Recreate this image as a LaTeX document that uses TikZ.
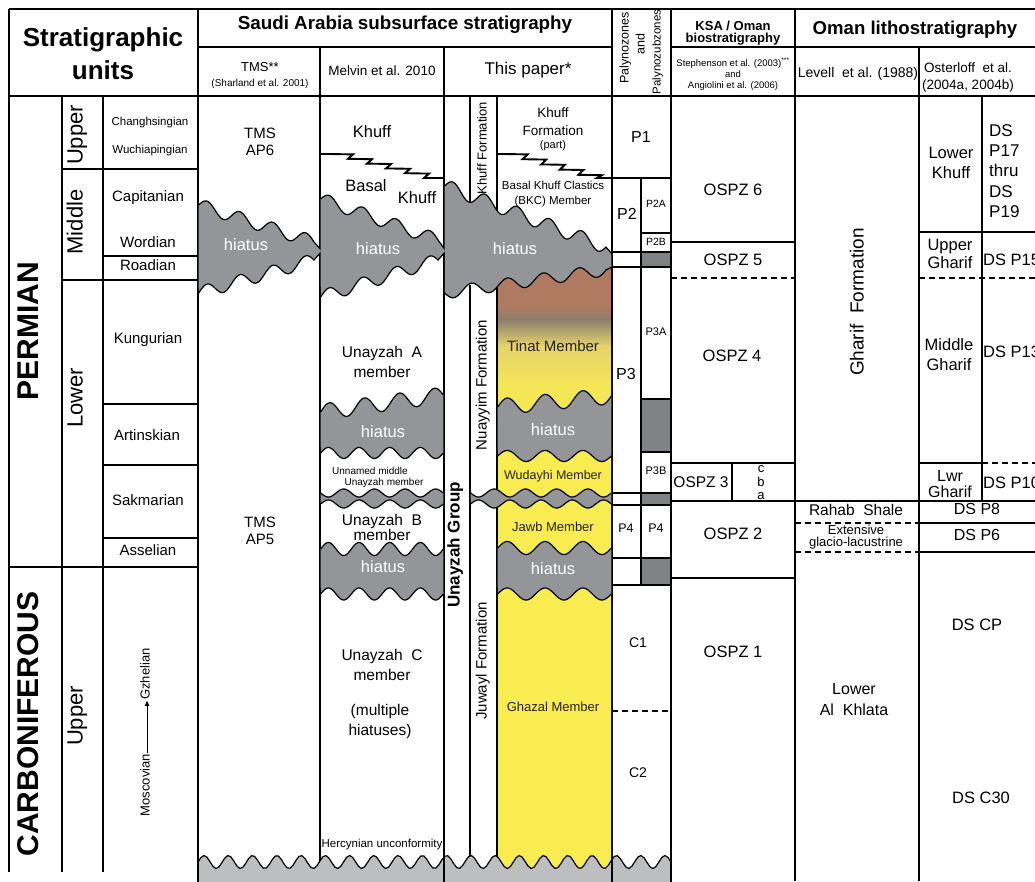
\documentclass[tikz,border=0pt]{standalone}
\usepackage{fontspec}
\setmainfont{Liberation Sans}
\usetikzlibrary{arrows.meta}
\newcommand\fsz[2]{\fontsize{#1}{#2}\selectfont}
\definecolor{hgray}{HTML}{939598}
\definecolor{dgray}{HTML}{808285}
\definecolor{bgray}{HTML}{BCBEC0}
\definecolor{brn}{HTML}{B07A60}
\definecolor{gbrn}{HTML}{8C7E6C}
\definecolor{ylw1}{HTML}{E4D26C}
\definecolor{ylwT}{HTML}{F5E655}
\definecolor{ylw}{HTML}{F8EC50}
\definecolor{ink}{HTML}{231F20}
\tikzset{
  % wavy edge from (#1,#2) to (#3,#4), amplitude #5, #6 periods, phase #7
  wvs/.style args={#1/#2/#3/#4/#5/#6/#7}{insert path={plot[domain=0:1,samples=160,variable=\t] ({#1+(#3-#1)*\t},{#2+(#4-#2)*\t+#5*sin(360*#6*\t+#7)})}},
  wvl/.style args={#1/#2/#3/#4/#5/#6/#7}{insert path={-- plot[domain=0:1,samples=160,variable=\t] ({#1+(#3-#1)*\t},{#2+(#4-#2)*\t+#5*sin(360*#6*\t+#7)})}},
}
\begin{document}
\begin{tikzpicture}[x=1pt,y=-1pt,
  ln/.style={line width=1.2pt},
  zz/.style={line width=1.9pt, line join=miter, miter limit=4},
  dsh/.style={line width=1.2pt, dash pattern=on 6pt off 4pt},
  t/.style={inner sep=1pt, align=center},
  t1/.style={inner sep=1pt, text height=0.72em, text depth=0.2em},
  hl/.style={t1, text=white, font=\fsz{16.5}{19}},
  mem/.style={t1, text=ink}]
\useasboundingbox (0,0) rectangle (1035,881);
\clip (0,0) rectangle (1035,881);
\fill[white] (0,0) rectangle (1035,881);

% ---------- coloured fills of the members ----------
\fill[brn] (497.6,262) rectangle (611.4,306);
\shade[top color=brn, bottom color=gbrn] (497.6,305) rectangle (611.4,320);
\shade[top color=gbrn, bottom color=ylw1] (497.6,319.5) rectangle (611.4,346);
\shade[top color=ylw1, bottom color=ylwT] (497.6,345.5) rectangle (611.4,385);
\fill[ylwT] (497.6,384.5) rectangle (611.4,420);
\fill[ylw] (497.6,445) rectangle (611.4,500);
\fill[ylw] (497.6,496) rectangle (611.4,560);
\fill[ylw] (497.6,585) rectangle (611.4,875);
% palynozone gaps
\fill[dgray] (641,252) rectangle (671,267);
\fill[dgray] (641,399) rectangle (671,452);
\fill[dgray] (641,493) rectangle (671,505);
\fill[dgray] (641,558) rectangle (671,585);

% ---------- table frame ----------
\draw[ln] (9,9) -- (1040,9);
\draw[ln] (9,96) -- (1040,96);
\draw[ln] (198,47) -- (612,47);
\draw[ln] (671,47) -- (1040,47);
\draw[ln] (9,9) -- (9,872);
\draw[ln] (62,96) -- (62,872);
\draw[ln] (103,96) -- (103,872);
\draw[ln] (198,9) -- (198,881);
\draw[ln] (320,47) -- (320,862);
\draw[ln] (444,47) -- (444,881);
\draw[ln] (470,96) -- (470,215) (470,285) -- (470,862);
\draw[ln] (497,96) -- (497,215) (497,285) -- (497,862);
\draw[ln] (612,9) -- (612,881);
\draw[ln] (641,178) -- (641,585);
\draw[ln] (671,9) -- (671,881);
\draw[ln] (732,463) -- (732,501);
\draw[ln] (795,9) -- (795,881);
\draw[ln] (919,47) -- (919,881);
\draw[ln] (982,96) -- (982,501);
% chronostratigraphic rows
\draw[ln] (62,169) -- (198,169);
\draw[ln] (103,256) -- (198,256);
\draw[ln] (62,280) -- (198,280);
\draw[ln] (103,404) -- (198,404);
\draw[ln] (103,465) -- (198,465);
\draw[ln] (103,538) -- (198,538);
\draw[ln] (9,567) -- (198,567);
% palynozones
\draw[ln] (612,178) -- (671,178);
\draw[ln] (612,252) -- (641,252);
\draw[ln] (641,233) -- (671,233) (641,252) -- (671,252);
\draw[ln] (612,267) -- (671,267);
\draw[ln] (641,399) -- (671,399) (641,452) -- (671,452);
\draw[ln] (612,493) -- (671,493) (612,505) -- (671,505);
\draw[ln] (612,558) -- (671,558) (612,585) -- (671,585);
\draw[dsh] (612,711) -- (671,711);
% KSA / Oman biozones
\draw[ln] (671,242) -- (795,242);
\draw[dsh] (671,278) -- (795,278);
\draw[ln] (671,463) -- (795,463);
\draw[ln] (671,501) -- (1040,501);
\draw[ln] (671,578) -- (795,578);
% Oman lithostratigraphy
\draw[ln] (919,232) -- (1040,232);
\draw[dsh] (919,278) -- (1040,278);
\draw[ln] (919,463) -- (982,463);
\draw[dsh] (982,463) -- (1040,463);
\draw[dsh] (795,523) -- (919,523);
\draw[ln] (919,523) -- (1040,523);
\draw[dsh] (795,552) -- (919,552);
\draw[ln] (919,552) -- (1040,552);

% ---------- interfingering Khuff contacts ----------
\draw[zz] (320,154) -- (329,154) -- (353,154.4) -- (348,158.8) -- (372,159.2) -- (367,163.6)
  -- (391,164) -- (386,168.4) -- (410,168.8) -- (405,173.2) -- (429,173.6) -- (424,178) -- (444,178);
\draw[zz] (497,154) -- (504,154) -- (527.6,154.4) -- (522.6,159.2) -- (546.2,159.6) -- (541.2,164.4)
  -- (564.8,164.8) -- (559.8,169.6) -- (583.4,170) -- (578.4,174.8) -- (602,175.2) -- (597,178) -- (612,178);

% ---------- hiatuses ----------
% Mid-Permian hiatus, TMS column
\fill[hgray] [wvs=198.7/205/314/242/6.5/3.5/180] -- (322,251) [wvl=314/260/198.7/293/6.5/3.5/180] -- cycle;
\draw[ln] [wvs=198.7/205/314/242/6.5/3.5/180] -- (322,251) [wvl=314/260/198.7/293/6.5/3.5/180];
% Mid-Permian hiatus, Melvin column
\fill[hgray] [wvs=320.7/199/438/240/6.5/3.5/180] -- (446,251) [wvl=438/260/320.7/297/6.5/3.5/180] -- cycle;
\draw[ln] [wvs=320.7/199/438/240/6.5/3.5/180] -- (446,251) [wvl=438/260/320.7/297/6.5/3.5/180];
% Mid-Permian hiatus, this paper
\fill[hgray] [wvs=444.7/186/606/247/7/5/180] -- (611.4,254) -- (611.4,267) [wvl=606/270/444.7/293/6/4.5/0] -- cycle;
\draw[ln] [wvs=444.7/186/606/247/7/5/180] -- (612,254);
\draw[ln] (612,267) [wvl=606/270/444.7/293/6/4.5/0];
% Tinat / Wudayhi hiatus
\fill[hgray] [wvs=320.7/412/443.3/395/8/3.5/180] [wvl=443.3/453/320.7/453/5.5/4/0] -- cycle;
\draw[ln] [wvs=320.7/412/443.3/395/8/3.5/180];
\draw[ln] [wvs=443.3/453/320.7/453/5.5/4/0];
\fill[hgray] [wvs=497.7/407/611.3/396/8/3/180] [wvl=611.3/456/497.7/456/5.5/3/0] -- cycle;
\draw[ln] [wvs=497.7/407/611.3/396/8/3/180];
\draw[ln] [wvs=611.3/456/497.7/456/5.5/3/0];
% thin hiatus below the unnamed middle member / Wudayhi
\fill[hgray] [wvs=320.7/493/443.3/493/4/4/0] [wvl=443.3/504/320.7/504/4/4/0] -- cycle;
\draw[ln] [wvs=320.7/493/443.3/493/4/4/0];
\draw[ln] [wvs=443.3/504/320.7/504/4/4/0];
\fill[hgray] [wvs=470.7/493/611.3/493/4/4.5/0] [wvl=611.3/504/470.7/504/4/4.5/180] -- cycle;
\draw[ln] [wvs=470.7/493/611.3/493/4/4.5/0];
\draw[ln] [wvs=611.3/504/470.7/504/4/4.5/180];
% hiatus between Unayzah B / Jawb and Unayzah C / Ghazal
\fill[hgray] [wvs=320.7/549/443.3/549/6.5/4/180] [wvl=443.3/594/320.7/594/6/4/0] -- cycle;
\draw[ln] [wvs=320.7/549/443.3/549/6.5/4/180];
\draw[ln] [wvs=443.3/594/320.7/594/6/4/0];
\fill[hgray] [wvs=497.7/548/611.3/548/6.5/3/180] [wvl=611.3/594/497.7/594/6/3/0] -- cycle;
\draw[ln] [wvs=497.7/548/611.3/548/6.5/3/180];
\draw[ln] [wvs=611.3/594/497.7/594/6/3/0];
% Hercynian unconformity and pre-Unayzah basement
\fill[bgray] [wvs=198/862/671/862/6.5/19.5/180] -- (671,885) -- (198,885) -- cycle;
\draw[ln] [wvs=198/862/671/862/6.5/19.5/180];
\draw[ln] (198,850) -- (198,885) (444,850) -- (444,885) (612,850) -- (612,885) (671,850) -- (671,885);

% ---------- header ----------
\node[t, font=\bfseries\fsz{26}{33}] (hStrat) at (103,54) {Stratigraphic\\units};
\node[t1, font=\bfseries\fsz{18.8}{21}] (hSaudi) at (405,27) {Saudi Arabia subsurface stratigraphy};
\node[t1, font=\fsz{13}{15}] (hTMS) at (260,69) {TMS**};
\node[t1, font=\fsz{10}{12}] (hShar) at (260,84) {(Sharland et al. 2001)};
\node[t1, font=\fsz{13.5}{16}] (hMel) at (382,73) {Melvin et al. 2010};
\node[t1, font=\fsz{17}{20}] (hThis) at (528,72) {This paper*};
\node[t1, rotate=90, font=\fsz{12.5}{14}] (hPal1) at (626,48) {Palynozones};
\node[t1, rotate=90, font=\fsz{12.5}{14}] (hPal2) at (642,44) {and};
\node[t1, rotate=90, font=\fsz{11.5}{14}] (hPal3) at (658,52) {Palynozubzones};
\node[t, font=\bfseries\fsz{13}{12}] (hKSA) at (733,33) {KSA / Oman\\biostratigraphy};
\node[t, font=\fsz{9.5}{11}] (hSteph) at (733,74) {Stephenson et al. (2003)\textsuperscript{***}\\and\\Angiolini et al. (2006)};
\node[t1, font=\bfseries\fsz{18.6}{21}] (hOman) at (915,32) {Oman lithostratigraphy};
\node[t1, font=\fsz{14}{17}] (hLev) at (858,75) {Levell\ \ et al. (1988)};
\node[t, font=\fsz{13.5}{17}] (hOst) at (968,78) {Osterloff\ \ et al.\\(2004a, 2004b)};

% ---------- chronostratigraphy ----------
\node[t1, rotate=90, font=\bfseries\fsz{30}{34}] (perm) at (36,331) {PERMIAN};
\node[t1, rotate=90, font=\bfseries\fsz{30}{34}] (carb) at (36,724) {CARBONIFEROUS};
\node[t1, rotate=90, font=\fsz{22}{25}] (epU) at (80,135) {Upper};
\node[t1, rotate=90, font=\fsz{22}{25}] (epM) at (80,222) {Middle};
\node[t1, rotate=90, font=\fsz{22}{25}] (epL) at (80,398) {Lower};
\node[t1, rotate=90, font=\fsz{22}{25}] (epC) at (80,716) {Upper};
\node[t1, font=\fsz{11.5}{13}] (stCh) at (150,123) {Changhsingian};
\node[t1, font=\fsz{11.5}{13}] (stWu) at (150,151) {Wuchiapingian};
\node[t1, font=\fsz{15}{17}] (stCa) at (148,199) {Capitanian};
\node[t1, font=\fsz{15}{17}] (stWo) at (148,245) {Wordian};
\node[t1, font=\fsz{15}{17}] (stRo) at (148,268) {Roadian};
\node[t1, font=\fsz{15}{17}] (stKu) at (148,341) {Kungurian};
\node[t1, font=\fsz{15}{17}] (stAr) at (147,438) {Artinskian};
\node[t1, font=\fsz{15}{17}] (stSa) at (148,503) {Sakmarian};
\node[t1, font=\fsz{15}{17}] (stAs) at (148,553) {Asselian};
\node[t1, rotate=90, font=\fsz{13}{15}] (mosc) at (147,785) {Moscovian};
\node[t1, rotate=90, font=\fsz{13}{15}] (gzh) at (147,674) {Gzhelian};
\draw[line width=0.9pt, -{Triangle[length=5pt,width=4.5pt]}] (mosc) -- (gzh);

% ---------- TMS ----------
\node[t, font=\fsz{15}{17}] (tms6) at (260,142) {TMS\\AP6};
\node[t, font=\fsz{15}{17}] (tms5) at (260,531) {TMS\\AP5};
\node[hl] (hi1) at (246,248) {hiatus};

% ---------- Melvin et al. ----------
\node[t1, font=\fsz{16.5}{19}] (mKh) at (372,135) {Khuff};
\node[t1, font=\fsz{16.5}{19}] (mBas) at (366,189) {Basal};
\node[t1, font=\fsz{16.5}{19}] (mKh2) at (417,201) {Khuff};
\node[hl] (hi2) at (378,252) {hiatus};
\node[t, font=\fsz{15.5}{20}] (mUA) at (382,362) {Unayzah\ \ A\\member};
\node[hl] (hi3) at (383,435) {hiatus};
\node[t1, font=\fsz{10}{12}] (mUn1) at (370,472) {Unnamed middle};
\node[t1, font=\fsz{10}{12}] (mUn2) at (384,483) {Unayzah member};
\node[t, font=\fsz{15.5}{15}] (mUB) at (382,527) {Unayzah\ \ B\\member};
\node[hl] (hi4) at (383,570) {hiatus};
\node[t, font=\fsz{15.5}{20}] (mUC) at (382,665) {Unayzah\ \ C\\member};
\node[t, font=\fsz{15.5}{20}] (mMult) at (380,721) {(multiple\\hiatuses)};
\node[t1, font=\fsz{11.5}{13}] (mHerc) at (382,845) {Hercynian unconformity};

% ---------- this paper ----------
\node[t1, rotate=90, font=\fsz{13}{15}] (pKF) at (484,148) {Khuff Formation};
\node[t, font=\fsz{13.5}{18}] (pKh) at (553,122) {Khuff\\Formation};
\node[t1, font=\fsz{11}{13}] (pPart) at (553,146) {(part)};
\node[t, font=\fsz{11.5}{15}] (pBKC) at (553,194) {Basal Khuff Clastics\\(BKC) Member};
\node[hl] (hi5) at (515,252) {hiatus};
\node[t1, rotate=90, font=\bfseries\fsz{17}{20}] (pUG) at (457,545) {Unayzah Group};
\node[t1, rotate=90, font=\fsz{15}{17}] (pNF) at (484,385) {Nuayyim Formation};
\node[mem, font=\fsz{15}{17}] (pTin) at (553,349) {Tinat Member};
\node[hl] (hi6) at (553,433) {hiatus};
\node[mem, font=\fsz{12.5}{15}] (pWud) at (553,477) {Wudayhi Member};
\node[mem, font=\fsz{13}{15}] (pJawb) at (553,529) {Jawb Member};
\node[hl] (hi7) at (553,572) {hiatus};
\node[t1, rotate=90, font=\fsz{15}{17}] (pJF) at (484,661) {Juwayl Formation};
\node[mem, font=\fsz{13}{15}] (pGh) at (553,709) {Ghazal Member};

% ---------- palynozones ----------
\node[t1, font=\fsz{16}{18}] (pz1) at (641,140) {P1};
\node[t1, font=\fsz{16}{18}] (pz2) at (627,217) {P2};
\node[t1, font=\fsz{10.5}{12}] (pz2a) at (656,205) {P2A};
\node[t1, font=\fsz{10.5}{12}] (pz2b) at (656,243) {P2B};
\node[t1, font=\fsz{16}{18}] (pz3) at (626,377) {P3};
\node[t1, font=\fsz{11}{12}] (pz3a) at (656,333) {P3A};
\node[t1, font=\fsz{11}{12}] (pz3b) at (656,472) {P3B};
\node[t1, font=\fsz{12.5}{14}] (pz4) at (626,530) {P4};
\node[t1, font=\fsz{12.5}{14}] (pz4s) at (656,530) {P4};
\node[t1, font=\fsz{14}{16}] (pzc1) at (638,645) {C1};
\node[t1, font=\fsz{14}{16}] (pzc2) at (638,775) {C2};

% ---------- KSA / Oman biozones ----------
\node[t1, font=\fsz{16.5}{19}] (o6) at (733,193) {OSPZ 6};
\node[t1, font=\fsz{16.5}{19}] (o5) at (733,263) {OSPZ 5};
\node[t1, font=\fsz{16.5}{19}] (o4) at (732,359) {OSPZ 4};
\node[t1, font=\fsz{15.5}{18}] (o3) at (701,485) {OSPZ 3};
\node[t, font=\fsz{13}{13.5}] (o3abc) at (761,483) {c\\b\\a};
\node[t1, font=\fsz{16.5}{19}] (o2) at (733,537) {OSPZ 2};
\node[t1, font=\fsz{16.5}{19}] (o1) at (733,655) {OSPZ 1};

% ---------- Oman lithostratigraphy ----------
\node[t1, rotate=90, font=\fsz{19}{22}] (lGF) at (861,302) {Gharif\ \ Formation};
\node[t1, font=\fsz{15.5}{18}] (lRS) at (856,513) {Rahab\ \ Shale};
\node[t, font=\fsz{13}{11.5}] (lEx) at (856,537) {Extensive\\glacio-lacustrine};
\node[t, font=\fsz{16}{21}] (lAK) at (854,700) {Lower\\Al\ \ Khlata};
\node[t, font=\fsz{16.5}{20}] (oLK) at (951,163) {Lower\\Khuff};
\node[t, anchor=west, align=left, font=\fsz{17}{20.3}] (oDS17) at (988,171) {DS\\P17\\thru\\DS\\P19};
\node[t, font=\fsz{16.5}{18}] (oUG) at (950,254) {Upper\\Gharif};
\node[t1, anchor=west, font=\fsz{16.5}{19}] (oP15) at (982,263) {DS P15};
\node[t, font=\fsz{16.5}{20}] (oMG) at (949,355) {Middle\\Gharif};
\node[t1, anchor=west, font=\fsz{16.5}{19}] (oP13) at (982,355) {DS P13};
\node[t, font=\fsz{16}{16}] (oLG) at (950,484) {Lwr\\Gharif};
\node[t1, anchor=west, font=\fsz{16.5}{19}] (oP10) at (982,486) {DS P10};
\node[t1, font=\fsz{16}{18}] (oP8) at (977,512) {DS P8};
\node[t1, font=\fsz{16}{18}] (oP6) at (977,538) {DS P6};
\node[t1, font=\fsz{16.5}{19}] (oCP) at (977,628) {DS CP};
\node[t1, font=\fsz{16.5}{19}] (oC30) at (981,801) {DS C30};
\end{tikzpicture}
\end{document}
